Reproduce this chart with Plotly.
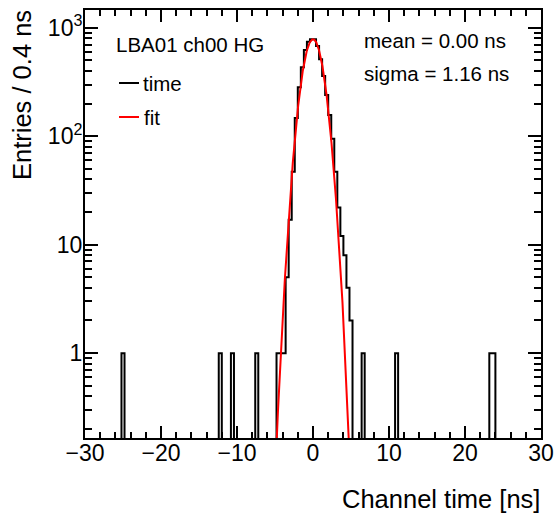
import numpy as np
import plotly.graph_objects as go

# --- Histogram data (0.4 ns bins from -30 to 30) ---
bin_width = 0.4
x_min, x_max = -30.0, 30.0

# core of the distribution: bins starting at -4.8 ns
core_start = -4.8
core_counts = [1, 1, 1, 5, 17, 47, 147, 283, 432, 624, 745, 783,
               783, 679, 513, 360, 240, 157, 95, 47, 22, 12, 8, 4, 2]

# isolated single entries (bin centres)
outlier_centres = [-25.0, -12.2, -10.6, -7.4, 6.6, 11.0, 23.4, 23.8]
outlier_counts = [1, 1, 1, 1, 1, 1, 1, 1]

# --- Gaussian fit ---
fit_mean = 0.00
fit_sigma = 1.16
fit_amp = 785.0

# --- Axis ticks ---
x_tickvals = [-30, -20, -10, 0, 10, 20, 30]
y_tickvals = [1, 10, 100, 1000]
y_ticktext = ["1", "10", "10<sup>2</sup>", "10<sup>3</sup>"]

# --- Build the full histogram ---
nbins = int(round((x_max - x_min) / bin_width))
edges = x_min + bin_width * np.arange(nbins + 1)
counts = np.zeros(nbins)
i0 = int(round((core_start - x_min) / bin_width))
counts[i0:i0 + len(core_counts)] = core_counts
for c, n in zip(outlier_centres, outlier_counts):
    counts[int((c - x_min) // bin_width)] += n

floor = 1e-3  # empty bins drawn below the visible range
hy = np.where(counts > 0, counts, floor)
hx = np.append(edges[:-1], edges[-1])
hy = np.append(hy, hy[-1])

fx = np.linspace(-5.6, 5.6, 600)
fy = fit_amp * np.exp(-0.5 * ((fx - fit_mean) / fit_sigma) ** 2)

fig = go.Figure()
fig.add_trace(go.Scatter(x=hx, y=hy, mode="lines", line_shape="hv",
                         line=dict(color="black", width=2), hoverinfo="skip"))
fig.add_trace(go.Scatter(x=fx, y=fy, mode="lines",
                         line=dict(color="#ff0000", width=2), hoverinfo="skip"))

# --- Layout (pixel helpers) ---
L, R, T, B = 85, 16, 10, 77
W, H = 557, 515
pw, ph = W - L - R, H - T - B
px = lambda x: (x - L) / pw
py = lambda y: (H - B - y) / ph

font = "Liberation Sans, Arial, sans-serif"

fig.update_layout(
    width=W, height=H,
    margin=dict(l=L, r=R, t=T, b=B, autoexpand=False),
    paper_bgcolor="white", plot_bgcolor="white",
    showlegend=False,
    template="none",
    font=dict(family=font, color="black"),
)

fig.update_xaxes(
    range=[x_min, x_max], showgrid=False, zeroline=False, automargin=False,
    showline=True, linecolor="black", linewidth=2, mirror="ticks",
    ticks="inside", ticklen=12, tickwidth=1.5, tickcolor="black",
    tickvals=x_tickvals, tickfont=dict(size=23, family=font),
    ticklabelstandoff=-7,
    minor=dict(ticks="inside", dtick=2, tick0=0, ticklen=6,
               tickwidth=1.5, tickcolor="black", showgrid=False),
)

minor_y = [m * 10 ** d for d in range(-1, 3) for m in range(2, 10)]
fig.update_yaxes(
    type="log", range=[np.log10(0.165), np.log10(1459)],
    showgrid=False, zeroline=False, automargin=False,
    showline=True, linecolor="black", linewidth=2, mirror="ticks",
    ticks="inside", ticklen=13, tickwidth=1.5, tickcolor="black",
    tickvals=y_tickvals, ticktext=y_ticktext,
    tickfont=dict(size=23, family=font),
    ticklabelstandoff=-4,
    minor=dict(ticks="inside", tickvals=minor_y, ticklen=7,
               tickwidth=1.5, tickcolor="black", showgrid=False),
)

def label(text, x, y, size=20.5, xanchor="left", yanchor="middle", angle=0):
    fig.add_annotation(text=text, x=px(x), y=py(y), xref="paper", yref="paper",
                       xanchor=xanchor, yanchor=yanchor, showarrow=False,
                       textangle=angle, font=dict(size=size, family=font, color="black"))

label("LBA01 ch00 HG", 114, 45)
label("time", 141, 83)
label("fit", 142, 117)
label("mean = 0.00 ns", 362, 40.5)
label("sigma = 1.16 ns", 362, 73)
label("Channel time [ns]", 542, 499, size=25.5, xanchor="right")
label("Entries / 0.4 ns", 22, 8, size=25.5, xanchor="center", yanchor="top", angle=-90)

for yy, col in [(83, "black"), (117, "#ff0000")]:
    fig.add_shape(type="line", xref="paper", yref="paper",
                  x0=px(119), x1=px(139), y0=py(yy), y1=py(yy),
                  line=dict(color=col, width=2))

# page body has a default 8px margin; remove it so the figure sits at (0,0)
fig.write_html("out.html", config={"displayModeBar": False},
               post_script="document.body.style.margin='0';")
